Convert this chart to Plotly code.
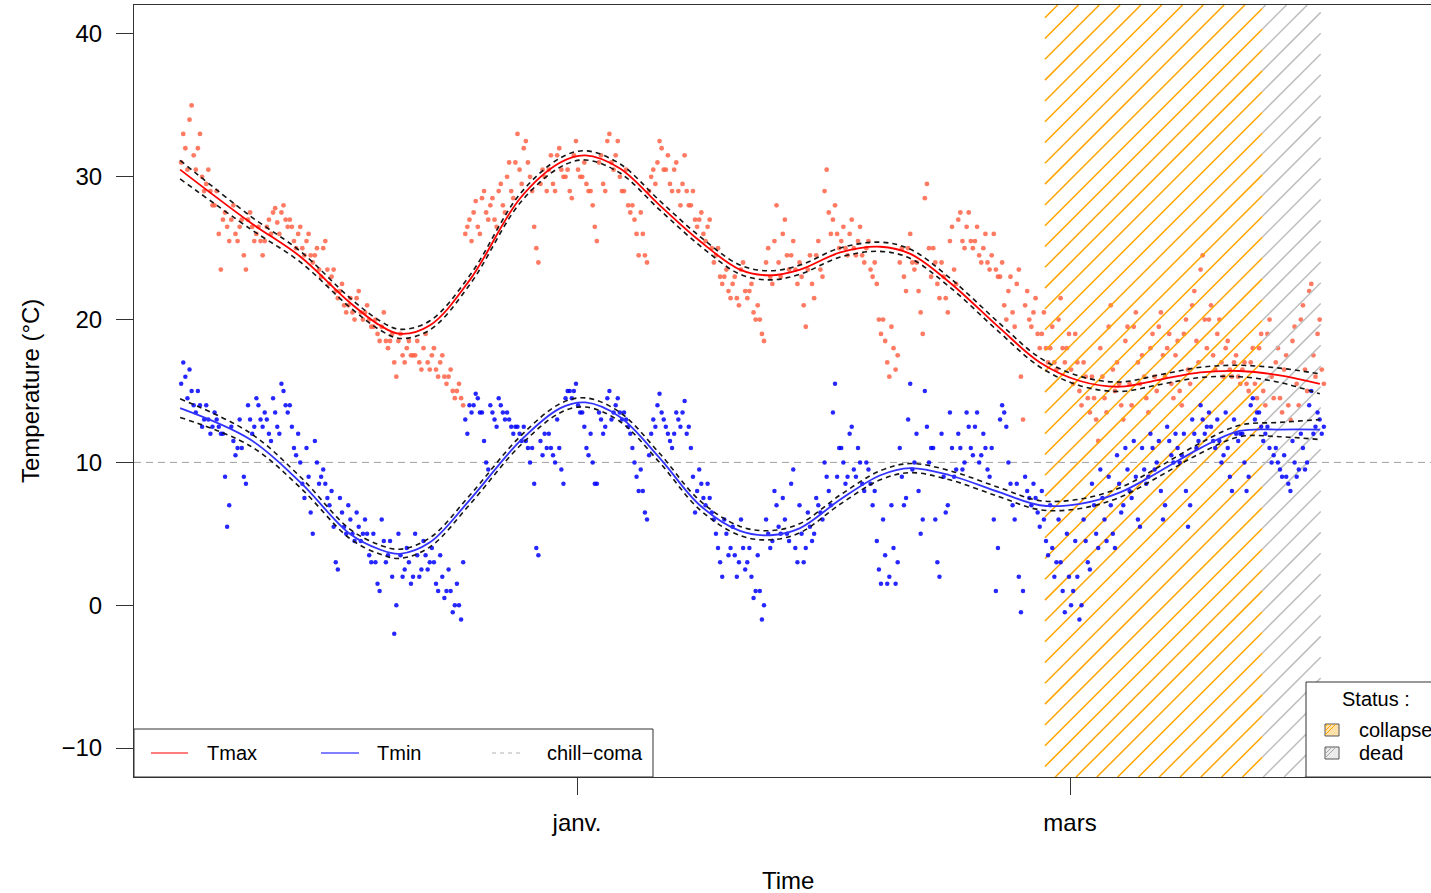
import numpy as np
import pandas as pd
import plotly.graph_objects as go

# ---------------- data ----------------
# readings every 6 h starting 2018-11-14 15:00, four per day
tmax = [
    31, 33, 32, 30.5,  34, 35, 31.5, 30.5,  32, 33, 30, 29,  29.5, 30.5, 29, 28,  28, 29, 26, 23.5,
    27, 27.5, 26.5, 25.5,  27, 28, 26, 25.5,  26.5, 27, 24.5, 23.5,  27, 27.5, 26.5, 25.5,  26, 26.5, 25.5, 24.5,
    25.5, 26.5, 27, 26,  27.5, 27.8, 26.8, 26,  27.5, 28, 27, 26.5,  27, 26.5, 25.5, 25,  26, 26.5, 25, 24.5,
    25.5, 26, 24.5, 24,  24.5, 25, 23.5, 23,  25, 25.5, 23.5, 22.5,  23, 23.5, 22, 21.5,  22, 22.5, 21, 20.5,
    21, 21.5, 20.5, 20,  21.5, 22, 20.5, 20,  20.5, 21, 20, 19.5,  19.5, 20, 19, 18.5,  19.5, 20.5, 18.5, 18,
    18.5, 19, 17, 16,  18.5, 19, 17.5, 17,  18, 18.5, 17.5, 17.5,  17.5, 18.5, 17, 16.5,  18, 19, 17, 16.5,
    17.5, 18, 16.5, 16,  17, 17.5, 16, 15.5,  16, 16.5, 15, 14.5,  15, 15.5, 14.5, 14,  26, 26.5, 27, 25.5,
    27.5, 28.3, 26.5, 26,  28.5, 29, 27.5, 27,  28, 28.5, 27, 26.5,  29, 29.5, 28, 27.5,  30, 31, 29, 28.5,
    31, 33, 30.5, 29.5,  32, 32.5, 31, 30,  29, 26.5, 25, 24,  29.5, 30.5, 30, 29,  30.5, 31.5, 29.5, 29,
    31.5, 32, 30.5, 30,  30, 30.5, 29, 28.5,  31.5, 32.5, 30.5, 30,  30, 31, 29.5, 29,  29, 28, 26.5, 25.5,
    31, 31.5, 29.5, 29,  32.5, 33, 31, 30.5,  31.5, 32.5, 30, 29,  29, 30.5, 28, 27.5,  28, 27, 26, 24.5,
    27.5, 26, 24.5, 24,  29, 30, 30.5, 29.5,  31, 32.5, 32, 30.5,  30.5, 31.5, 29.5, 29,  30.5, 31, 29, 28,
    29.5, 31.5, 29, 28,  28, 29, 27, 26.5,  27, 27.5, 26, 25.5,  26.5, 27, 25, 24,  24.5, 25, 23, 22.5,
    23, 23.5, 22, 21.5,  22.5, 23, 21.5, 21,  23.5, 24, 22, 21.5,  22, 22.5, 20.5, 20,  21, 20, 19, 18.5,
    24, 25, 23, 22.5,  25.5, 28, 24, 23,  26, 27, 24.5, 23.5,  24.5, 25.5, 23.5, 22.5,  24, 23, 21, 19.5,
    23.5, 24.5, 22.5, 21.5,  24.5, 25.5, 23.5, 23,  29, 30.5, 27.5, 26,  27, 28, 26, 25,  25.5, 26.5, 25, 24.5,
    26, 27, 25, 24.5,  25.5, 26.5, 24.5, 24,  25, 25.5, 23.5, 23,  24, 22.5, 20, 19,  20, 18.5, 17, 16,
    19.5, 18, 16.5, 17.5,  24, 25, 23, 22,  25, 26, 24, 23.5,  24, 22, 20.5, 19,  28.5, 29.5, 25, 23,
    25, 24, 22.5, 21.5,  24, 23, 21.5, 20.5,  25.5, 26.5, 23.5, 22.5,  27, 27.5, 25.5, 25,  26.5, 27.5, 25.5, 25,
    25.5, 26.5, 24.5, 24,  25, 26, 24, 23.5,  24.5, 26, 23.5, 23,  23, 24, 21, 20,  22, 23, 20.5, 19.5,
    22.5, 23.5, 16, 13,  21, 22, 20, 19.5,  20.5, 21.5, 19, 18,  19, 20.5, 18, 17,  18, 19.5, 17, 16.5,
    20, 21.5, 18, 17,  18, 19, 16.5, 15.5,  19, 17, 15, 14,  17, 16, 14.5, 13.5,  16, 14.5, 13, 11.5,
    18, 16, 14.5, 13.5,  19.5, 21, 16.5, 15,  17, 15.5, 14, 13,  18.5, 19.5, 15.5, 14,  19.5, 20.5, 17, 15.5,
    17.5, 16, 14.5, 13.5,  18, 19, 16, 15,  19.5, 20.5, 17.5, 16,  18, 19, 15.5, 14.5,  17.5, 18.5, 15, 14,
    19, 20, 16.5, 15.5,  21, 22, 18.5, 17,  23.5, 24.5, 20, 18,  20, 21, 17.5, 16.5,  19, 20, 17, 16,
    18, 18.5, 16.5, 16,  17, 17.5, 16, 15.5,  16.5, 17, 15.5, 15,  17, 18, 15.5, 14.5,  18, 19, 15, 14,
    19, 20, 16, 14.5,  17, 18, 14.5, 13.5,  16.5, 17.5, 14, 13,  18.5, 19.5, 15.5, 14,  20, 21, 16.5, 15,
    22, 22.5, 17.5, 16,  19, 20, 16.5, 15.5,
]
tmin = [
    15.5, 17, 16, 14.5,  16.5, 15, 14, 13.5,  15, 14, 12.5, 13,  14, 13, 12, 12.5,  13.5, 13, 12.5, 12,
    12, 9, 5.5, 7,  12.5, 11.5, 10.5, 11,  13, 11, 9, 8.5,  14, 13, 12, 12.5,  14.5, 14, 13, 12.5,
    13.5, 13, 12, 11.5,  14.5, 13.5, 12.5, 12,  15.5, 15, 14, 13.5,  14, 12.5, 11, 10.5,  12, 10, 8.5, 7.5,
    11, 9, 6.5, 5,  11.5, 10, 8.5, 9,  9.5, 8.5, 7.5, 7,  8, 5.5, 3, 2.5,  7.5, 6.5, 5.5, 5,
    7, 6, 5, 4.5,  6.5, 5.5, 4.5, 5,  6, 5, 3.5, 3,  5, 3, 1.5, 1,  6, 4.5, 3, 3.5,
    4.5, 2, -2, 0,  5, 3.5, 2, 2.5,  4, 3, 1.5, 2,  5, 3.5, 2, 2.5,  4.5, 3.5, 2.5, 3,
    4, 3, 1.5, 1,  3.5, 2, 0.5, 1,  2.5, 1, -0.5, 0,  1.5, 0, -1, 3,  13, 12, 14, 13.5,
    14, 14.8, 14.5, 13.5,  13.5, 11.5, 10, 9.5,  14, 13.5, 13, 12.5,  14.5, 14, 13.5, 13,  13.5, 13, 12.5, 12,
    12.5, 12.5, 12, 11.5,  12.5, 11.5, 11, 10,  11, 8.5, 4, 3.5,  11.5, 10.5, 12, 11,  12, 11, 10.5, 10,
    13, 11, 9.5, 8.5,  14.5, 15, 15, 14.5,  15, 15.5, 14, 13.5,  13.5, 12.5, 11, 10.5,  12, 10, 8.5, 8.5,
    13.5, 13, 12, 12.5,  14.5, 15, 13, 13.5,  14, 14.5, 13.5, 13,  13.5, 13, 12.5, 12,  11, 10, 9, 8,
    9.5, 8, 6.5, 6,  10.5, 12, 13, 12.5,  14, 14.8, 13.5, 13,  12.5, 12, 11.5, 11,  12, 13.5, 13, 12.5,
    13.5, 14.3, 12, 12.5,  11, 9, 6.5, 8,  9.5, 8.5, 7.5, 7,  8.5, 7.5, 6.5, 6,  5, 4, 3, 2,
    6, 5, 3.5, 4,  5.5, 3.5, 2, 3,  6, 4, 2.5, 3,  4, 2, 0.5, 1,  3.5, 1, -1, 0,
    6, 5, 4, 4.5,  8, 7, 5.5, 5,  7.5, 6, 5, 4.5,  8.5, 9.5, 4, 3,  7, 5, 3, 4,
    6.5, 5.5, 4.5, 5,  7.5, 7, 6.5, 6,  10, 9, 8, 7,  13.5, 15.5, 9, 11,  11, 10, 8.5, 9,
    12, 12.5, 9.5, 9,  11, 10, 8.5, 8,  10, 9.5, 8.5, 7,  8, 4.5, 2.5, 1.5,  6, 3.5, 1.5, 2,
    7, 4, 1.5, 3,  11, 9, 7, 7.5,  13, 15.5, 9.5, 10,  12, 8, 5, 6,  15, 12.5, 10, 11,
    11, 6, 3, 2,  12, 9, 6.5, 7,  13.5, 11, 9, 9.5,  12, 11, 9.5, 10,  13.5, 12.5, 11, 10.5,
    12.5, 13.5, 10, 10.5,  12, 11, 9.5, 9,  11, 6, 1, 4,  13, 14, 13.5, 12.5,  10, 8.5, 7, 6,
    8.5, 2, -0.5, 1,  9, 8, 7.5, 7,  8.5, 7.5, 6.5, 5.5,  8, 6, 4.5, 3.5,  7, 4, 2, 3,
    6, 3, 1, -0.5,  5, 2, 0, 1,  4.5, 2, -1, 0,  6, 4.5, 3, 2.5,  8.5, 7, 5, 4,
    9.5, 7.5, 6, 4.5,  9, 7, 5, 4,  10.5, 8.5, 6.5, 7,  11, 9.5, 8, 7.5,  11.5, 9, 6, 5.5,
    11, 9.5, 8.5, 9,  12, 11, 9.5, 10,  11.5, 8, 6, 7,  12.5, 11.5, 10.5, 10,  12, 11, 10, 10.5,
    12, 8, 5.5, 7,  13, 12, 11, 11.5,  14, 13, 12, 12.5,  13.5, 12.5, 11.5, 11,  13, 11.5, 10, 10.5,
    13.5, 11, 9, 8,  13, 12, 11.5, 12,  12, 10, 8, 9,  14, 14.5, 13, 13.5,  13.5, 12.5, 11.5, 12,
    12.5, 11, 10, 10.5,  11, 10, 9.5, 9,  10.5, 9, 8.5, 8,  11.5, 10, 9, 9.5,  12, 11, 9.5, 10,
    14, 15, 12, 12.5,  13.5, 13, 12, 12.5,
]

# smoothed fits, sampled in days from 1 January
fit_days = [-47.5, -39.1, -33.1, -27.2, -23.6, -21.2, -17.6, -12.8, -6.8, -2.0, 1.0, 5.1, 9.9, 14.7, 19.5,
            23.1, 26.7, 31.5, 36.3, 39.9, 44.6, 50.6, 55.4, 60.2, 65.0, 69.8, 74.6, 79.3, 84.1, 88.9]
tmax_fit = [30.5, 26.8, 24.4, 21.2, 19.6, 19.0, 19.6, 22.8, 28.5, 31.0, 31.5, 30.6, 28.0, 25.5, 23.5,
            23.1, 23.5, 24.7, 25.1, 24.6, 22.6, 19.4, 17.0, 15.7, 15.3, 15.8, 16.3, 16.4, 16.1, 15.5]
tmin_fit = [13.8, 11.6, 8.6, 5.0, 3.9, 3.6, 4.4, 7.4, 11.5, 13.8, 14.2, 13.2, 10.3, 7.0, 5.2,
            4.9, 5.4, 7.4, 9.1, 9.6, 9.1, 7.9, 7.0, 7.1, 7.9, 9.4, 11.0, 12.2, 12.3, 12.3]
tmax_ci = [0.65, 0.45, 0.38, 0.33, 0.32, 0.32, 0.32, 0.32, 0.32, 0.32, 0.32, 0.32, 0.32, 0.32, 0.32,
           0.32, 0.32, 0.32, 0.32, 0.32, 0.32, 0.32, 0.32, 0.33, 0.33, 0.34, 0.36, 0.4, 0.5, 0.7]
tmin_ci = [0.65, 0.45, 0.38, 0.33, 0.32, 0.32, 0.32, 0.32, 0.32, 0.32, 0.32, 0.32, 0.32, 0.32, 0.32,
           0.32, 0.32, 0.32, 0.32, 0.32, 0.32, 0.32, 0.32, 0.33, 0.33, 0.34, 0.36, 0.4, 0.5, 0.7]

chill_coma = 10
collapse_start = "2019-02-26"
dead_start = "2019-03-24"
dead_end = "2019-03-31"
tick_dates = ["2019-01-01", "2019-03-01"]
tick_text = ["janv.", "mars"]

# ---------------- layout geometry ----------------
W, H = 1431, 893
ML, MR, MT, MB = 134, 0, 5, 116
PW, PH = W - ML - MR, H - MT - MB
jan1 = pd.Timestamp("2019-01-01")
x_lo_days, x_hi_days = -53.02, 102.2
y_lo, y_hi = -12.03, 42.03

times = pd.date_range(pd.Timestamp("2018-11-14 15:00"), periods=len(tmax), freq="6h")
fit_t = [jan1 + pd.Timedelta(days=d) for d in fit_days]
tmax_fit_a = np.array(tmax_fit); tmin_fit_a = np.array(tmin_fit)
tmax_ci_a = np.array(tmax_ci); tmin_ci_a = np.array(tmin_ci)

def px(x):
    return (x - ML) / PW

def py(y):
    return (H - MB - y) / PH

def dday(s):
    return (pd.Timestamp(s) - jan1) / pd.Timedelta(days=1)

# hatching (45 degrees on screen)
px_per_day = PW / (x_hi_days - x_lo_days)
px_per_deg = PH / (y_hi - y_lo)
slope = px_per_day / px_per_deg          # deg per day
spacing = 20.8 / px_per_deg              # deg
anchor_d = dday(collapse_start)
anchor_c = -1.10

def hatch(d0, d1):
    xs, ys = [], []
    k_lo = int(np.floor((y_lo - anchor_c - slope * (d1 - anchor_d)) / spacing)) - 1
    k_hi = int(np.ceil((y_hi - anchor_c - slope * (d0 - anchor_d)) / spacing)) + 1
    for k in range(k_lo, k_hi + 1):
        c = anchor_c + k * spacing
        da = anchor_d + (y_lo - c) / slope
        db = anchor_d + (y_hi - c) / slope
        s0, s1 = max(d0, da), min(d1, db)
        if s0 < s1:
            for d in (s0, s1):
                xs.append(jan1 + pd.Timedelta(days=d))
                ys.append(c + slope * (d - anchor_d))
            xs.append(None); ys.append(None)
    return xs, ys

fig = go.Figure()

fig.add_trace(go.Scatter(x=times, y=tmax, mode="markers",
                         marker=dict(size=4.8, color="rgba(255,99,71,0.85)"), showlegend=False))

hx, hy = hatch(dday(collapse_start), dday(dead_start))
fig.add_trace(go.Scatter(x=hx, y=hy, mode="lines", line=dict(color="#FFA500", width=1.5),
                         showlegend=False, hoverinfo="skip"))
gx, gy = hatch(dday(dead_start), dday(dead_end))
fig.add_trace(go.Scatter(x=gx, y=gy, mode="lines", line=dict(color="#BEBEBE", width=1.5),
                         showlegend=False, hoverinfo="skip"))

fig.add_trace(go.Scatter(x=times, y=tmin, mode="markers",
                         marker=dict(size=4.5, color="rgba(0,0,255,0.85)"), showlegend=False))

for fit, ci, col in [(tmax_fit_a, tmax_ci_a, "#FF0000"), (tmin_fit_a, tmin_ci_a, "#3333FF")]:
    fig.add_trace(go.Scatter(x=fit_t, y=fit, mode="lines", line=dict(color=col, width=1.8, shape="spline"),
                             showlegend=False))
    for sgn in (1, -1):
        fig.add_trace(go.Scatter(x=fit_t, y=fit + sgn * ci, mode="lines",
                                 line=dict(color="#151515", width=1.6, dash="5px,4px", shape="spline"),
                                 showlegend=False))

shapes = []
shapes.append(dict(type="line", xref="paper", yref="y", x0=0, x1=1, y0=chill_coma, y1=chill_coma,
                   line=dict(color="#A0A0A0", width=1, dash="7px,5px"), layer="below"))
shapes.append(dict(type="rect", xref="paper", yref="paper", x0=0, x1=px(653), y0=0, y1=py(729),
                   fillcolor="white", line=dict(color="#333333", width=1), layer="above"))
shapes.append(dict(type="line", xref="paper", yref="paper", x0=px(151), x1=px(188), y0=py(753), y1=py(753),
                   line=dict(color="#FF5050", width=1.5), layer="above"))
shapes.append(dict(type="line", xref="paper", yref="paper", x0=px(321), x1=px(359), y0=py(753), y1=py(753),
                   line=dict(color="#5555FF", width=1.5), layer="above"))
shapes.append(dict(type="line", xref="paper", yref="paper", x0=px(492), x1=px(524), y0=py(753), y1=py(753),
                   line=dict(color="#B0B0B0", width=1, dash="4px,4px"), layer="above"))
shapes.append(dict(type="rect", xref="paper", yref="paper", x0=px(1306), x1=1.05, y0=0, y1=py(682),
                   fillcolor="white", line=dict(color="#333333", width=1), layer="above"))
for (ytop, fcol, lcol) in [(724, "#FFE0A8", "#FFA500"), (747, "#EBEBEB", "#A8A8A8")]:
    shapes.append(dict(type="rect", xref="paper", yref="paper", x0=px(1325), x1=px(1339),
                       y0=py(ytop + 12), y1=py(ytop), fillcolor=fcol,
                       line=dict(color="#555555", width=1), layer="above"))
    for off in (3, 7, 11):
        shapes.append(dict(type="line", xref="paper", yref="paper",
                           x0=px(1325 + max(0, off - 12)), y0=py(ytop + min(12, off)),
                           x1=px(1325 + min(14, off)), y1=py(ytop + max(0, off - 14)),
                           line=dict(color=lcol, width=1), layer="above"))

ann = []
F = "Liberation Sans, Arial, sans-serif"
def text(x, y, s, size=20, xa="left", ya="middle", angle=0):
    ann.append(dict(x=px(x), y=py(y), xref="paper", yref="paper", text=s, showarrow=False,
                    xanchor=xa, yanchor=ya, textangle=angle, font=dict(size=size, color="black", family=F)))

text(205, 753, "Tmax")
text(375, 753, "Tmin")
text(545, 753, "chill−coma")
text(1340, 699, "Status :")
text(1357, 730, "collapse")
text(1357, 753, "dead")
text(788, 880, "Time", size=24, xa="center")
text(30, 391, "Temperature (°C)", size=24, xa="center", angle=-90)

fig.update_layout(
    width=W, height=H, margin=dict(l=ML, r=MR, t=MT, b=MB),
    paper_bgcolor="white", plot_bgcolor="white",
    shapes=shapes, annotations=ann, showlegend=False,
    font=dict(family=F, color="black"),
    xaxis=dict(type="date",
               range=[jan1 + pd.Timedelta(days=x_lo_days), jan1 + pd.Timedelta(days=x_hi_days)],
               tickvals=tick_dates, ticktext=tick_text, ticks="outside", ticklen=17, tickwidth=1,
               tickcolor="#333333", showgrid=False, zeroline=False, showline=True,
               linecolor="#333333", linewidth=1, mirror=True,
               tickfont=dict(size=24, family=F), ticklabelstandoff=7),
    yaxis=dict(range=[y_lo, y_hi], tickvals=[-10, 0, 10, 20, 30, 40], ticks="outside", ticklen=17,
               tickwidth=1, tickcolor="#333333", showgrid=False, zeroline=False, showline=True,
               linecolor="#333333", linewidth=1, tickfont=dict(size=24, family=F),
               ticklabelstandoff=9),
)

fig.write_html("out.html", config={"displayModeBar": False},
               post_script="document.body.style.margin='0px';document.body.style.overflow='hidden';")
